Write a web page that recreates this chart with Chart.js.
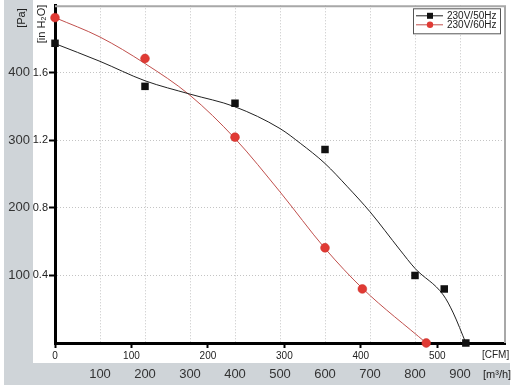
<!DOCTYPE html>
<html>
<head>
<meta charset="utf-8">
<script src="https://cdn.jsdelivr.net/npm/chart.js"></script>
<style>
html,body{margin:0;padding:0;background:#fff;}
canvas{display:block;}
</style>
</head>
<body>
<canvas id="c" width="516" height="391"></canvas>
<script>
// ---- data (flow in m³/h, pressure in inH2O) ----
const seriesNames = ['230V/50Hz', '230V/60Hz'];
// measured points (markers)
const flow50 = [0, 200, 400, 600, 800, 865, 913];
const press50 = [1.775, 1.52, 1.42, 1.146, 0.40, 0.32, 0];
const flow60 = [0, 200, 400, 600, 683, 825];
const press60 = [1.927, 1.685, 1.219, 0.564, 0.32, 0];
// fitted curves
const curveFlow50 = [0, 100, 200, 300, 400, 500, 545, 600, 650, 700, 767, 800, 863, 885, 913];
const curvePress50 = [1.773, 1.668, 1.553, 1.474, 1.399, 1.270, 1.183, 1.063, 0.925, 0.777, 0.550, 0.442, 0.284, 0.178, 0];
const curveFlow60 = [0, 100, 200, 300, 400, 500, 600, 683, 825];
const curvePress60 = [1.927, 1.812, 1.655, 1.467, 1.211, 0.895, 0.560, 0.324, 0];
// tick labels
const m3hTicks = [100, 200, 300, 400, 500, 600, 700, 800, 900];
const cfmTicks = [0, 100, 200, 300, 400, 500];
const inH2OTicks = [0.4, 0.8, 1.2, 1.6];
const paTicks = [100, 200, 300, 400];

const M3H_MAX = 1000, CFM_PER_M3H = 1 / 1.699;
const IN_MAX = 2.0, PA_MAX = 500;

const FONT = 'Liberation Sans, Arial, sans-serif';
const zip = (xs, ys) => xs.map((x, i) => ({x: x, y: ys[i]}));

const BLACK = '#111111', RED_LINE = '#c0504d', RED_PT = '#e03a34';

const noPad = s => { s.paddingTop = 0; s.paddingBottom = 0; s.paddingLeft = 0; s.paddingRight = 0; };

const decor = {
  id: 'decor',
  beforeDraw(chart) {
    const ctx = chart.ctx, s = chart.scales, a = chart.chartArea;
    ctx.save();
    ctx.fillStyle = '#ffffff';
    ctx.fillRect(0, 0, chart.width, chart.height);
    ctx.fillStyle = '#cfd4d8';
    ctx.fillRect(s.yPa.left, 0, s.yPa.right - s.yPa.left, s.xc.bottom);
    ctx.fillRect(s.yPa.left, s.x.top, chart.width - 6 - s.yPa.left, s.x.bottom - s.x.top);
    ctx.fillStyle = '#ffffff';
    ctx.fillRect(a.left, a.top, a.right - a.left, a.bottom - a.top);
    ctx.restore();
  },
  afterDraw(chart) {
    const ctx = chart.ctx, s = chart.scales, a = chart.chartArea;
    ctx.save();
    ctx.strokeStyle = '#a8a8a8';
    ctx.lineWidth = 2;
    ctx.beginPath();
    ctx.moveTo(a.left, a.top + 1);
    ctx.lineTo(a.right, a.top + 1);
    ctx.lineTo(a.right, a.bottom);
    ctx.stroke();
    ctx.fillStyle = '#222';
    ctx.textBaseline = 'middle';
    ctx.font = '11px ' + FONT;
    ctx.textAlign = 'center';
    ctx.save();
    ctx.translate((s.yPa.left + s.yPa.right) / 2 + 3, 18);
    ctx.rotate(-Math.PI / 2);
    ctx.fillText('[Pa]', 0, 0);
    ctx.restore();
    ctx.save();
    ctx.translate(s.y.left + 9, 24);
    ctx.rotate(-Math.PI / 2);
    ctx.fillText('[in H\u2082O]', 0, 0);
    ctx.restore();
    ctx.textAlign = 'left';
    ctx.font = '10px ' + FONT;
    ctx.fillText('[CFM]', a.right - 23, s.xc.top + 12);
    ctx.font = '11px ' + FONT;
    ctx.fillText('[m\u00b3/h]', a.right - 22, (s.x.top + s.x.bottom) / 2 + 1);

    const lx = a.right - 92, ly = a.top + 3, lw = 87, lh = 25;
    ctx.fillStyle = '#fff';
    ctx.fillRect(lx, ly, lw, lh);
    ctx.strokeStyle = '#555';
    ctx.lineWidth = 1;
    ctx.strokeRect(lx + 0.5, ly + 0.5, lw, lh);
    const items = [
      {line: chart.data.datasets[0], pt: chart.data.datasets[1]},
      {line: chart.data.datasets[2], pt: chart.data.datasets[3]}
    ];
    items.forEach((it, i) => {
      const y = ly + 7.5 + i * 9;
      ctx.strokeStyle = it.line.borderColor;
      ctx.lineWidth = 1;
      ctx.beginPath();
      ctx.moveTo(lx + 3, y);
      ctx.lineTo(lx + 30, y);
      ctx.stroke();
      ctx.fillStyle = it.pt.backgroundColor;
      if (it.pt.pointStyle === 'rect') {
        ctx.fillRect(lx + 14, y - 3, 6, 6);
      } else {
        ctx.beginPath();
        ctx.arc(lx + 17, y, 3.2, 0, Math.PI * 2);
        ctx.fill();
      }
      ctx.fillStyle = '#222';
      ctx.font = '10px ' + FONT;
      ctx.textAlign = 'left';
      ctx.fillText(it.line.label, lx + 34, y + 0.5);
    });
    ctx.restore();
  }
};

new Chart(document.getElementById('c'), {
  type: 'line',
  data: {
    datasets: [
      {label: seriesNames[0], data: zip(curveFlow50, curvePress50), borderColor: '#222', borderWidth: 1,
       pointRadius: 0, cubicInterpolationMode: 'monotone', order: 3, fill: false},
      {label: seriesNames[0], data: zip(flow50, press50), showLine: false, pointStyle: 'rect',
       pointRadius: 5.3, backgroundColor: BLACK, borderColor: BLACK, borderWidth: 0, order: 1, clip: false},
      {label: seriesNames[1], data: zip(curveFlow60, curvePress60), borderColor: RED_LINE, borderWidth: 1,
       pointRadius: 0, cubicInterpolationMode: 'monotone', order: 4, fill: false},
      {label: seriesNames[1], data: zip(flow60, press60), showLine: false, pointStyle: 'circle',
       pointRadius: 4.4, backgroundColor: RED_PT, borderColor: '#c82a25', borderWidth: 0.5, order: 2, clip: false}
    ]
  },
  options: {
    responsive: false,
    animation: false,
    layout: {padding: {left: 4, top: 5, right: 11, bottom: 6}},
    plugins: {legend: {display: false}, tooltip: {enabled: false}},
    scales: {
      x: {
        type: 'linear', position: 'bottom', min: 0, max: M3H_MAX, weight: 2,
        afterBuildTicks: s => { s.ticks = m3hTicks.map(v => ({value: v})); },
        afterFit: s => { s.height = 22; noPad(s); },
        grid: {color: '#c4c4c4', lineWidth: 1, drawTicks: false},
        border: {display: false, dash: [1, 2]},
        ticks: {font: {family: FONT, size: 13}, color: '#333', padding: 4, maxRotation: 0, autoSkip: false}
      },
      xc: {
        type: 'linear', position: 'bottom', min: 0, max: M3H_MAX * CFM_PER_M3H, weight: 1,
        afterBuildTicks: s => { s.ticks = cfmTicks.map(v => ({value: v})); },
        afterFit: s => { s.height = 20; noPad(s); },
        grid: {drawOnChartArea: false, drawTicks: true, tickLength: 5, tickColor: '#000', tickWidth: 2},
        border: {display: true, color: '#000', width: 3},
        ticks: {font: {family: FONT, size: 10}, color: '#222', padding: 2, maxRotation: 0, autoSkip: false}
      },
      y: {
        type: 'linear', position: 'left', min: 0, max: IN_MAX, weight: 1,
        afterBuildTicks: s => { s.ticks = inH2OTicks.map(v => ({value: v})); },
        afterFit: s => { s.width = 22; noPad(s); },
        grid: {color: '#c4c4c4', lineWidth: 1, tickColor: '#000', tickWidth: 2, tickLength: 6, tickBorderDash: []},
        border: {display: true, color: '#000', width: 3, dash: [1, 2]},
        ticks: {font: {family: FONT, size: 11}, color: '#222', padding: 1,
                callback: v => v.toFixed(1)}
      },
      yPa: {
        type: 'linear', position: 'left', min: 0, max: PA_MAX, weight: 2,
        afterBuildTicks: s => { s.ticks = paTicks.map(v => ({value: v})); },
        afterFit: s => { s.width = 29; noPad(s); },
        grid: {display: false, drawTicks: false},
        border: {display: false},
        ticks: {font: {family: FONT, size: 13}, color: '#333', padding: 3}
      }
    }
  },
  plugins: [decor]
});
</script>
</body>
</html>
